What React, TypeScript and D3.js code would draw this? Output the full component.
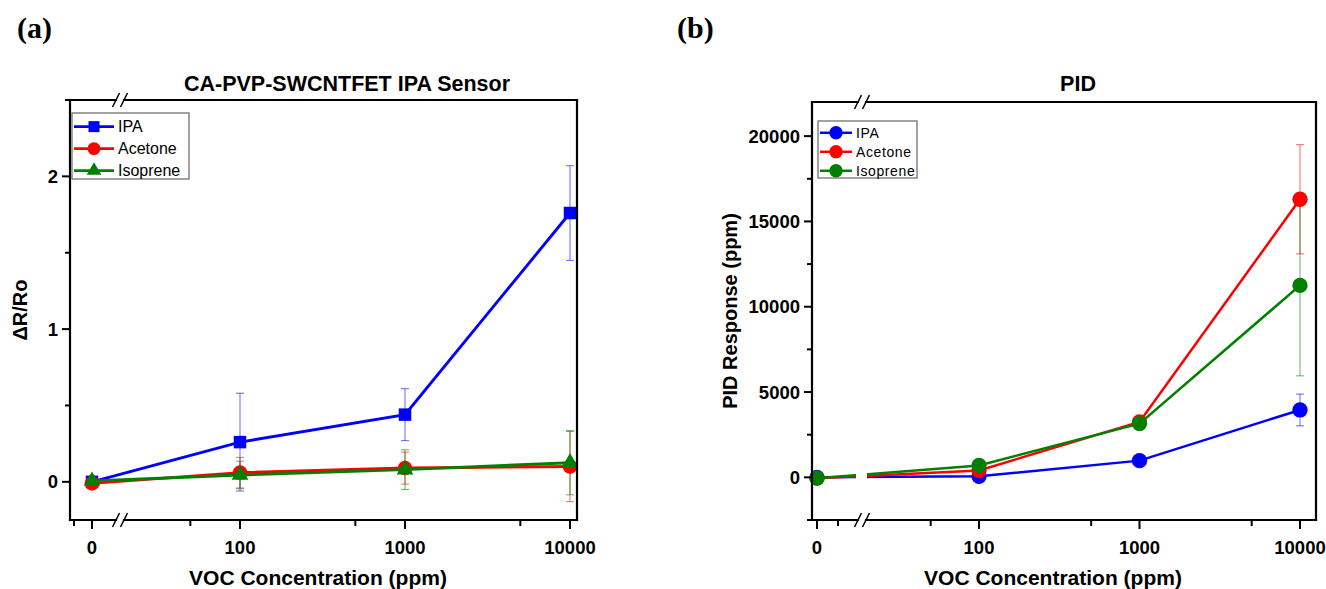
import React from 'react';
import * as d3 from 'd3';

// ---------- data ----------
const concentrations = [0, 100, 1000, 10000];
const seriesNames = ['IPA', 'Acetone', 'Isoprene'];
const seriesColors = ['#0000ff', '#ff0000', '#008000'];

const sensorIPA = [0, 0.26, 0.44, 1.76];
const sensorIPAErr = [0.01, 0.32, 0.17, 0.31];
const sensorAcetone = [-0.01, 0.06, 0.09, 0.1];
const sensorAcetoneErr = [0.01, 0.1, 0.105, 0.23];
const sensorIsoprene = [0.005, 0.045, 0.08, 0.125];
const sensorIsopreneErr = [0.01, 0.09, 0.13, 0.21];

const pidIPA = [0, 60, 980, 3950];
const pidIPAErr = [0, 40, 80, 930];
const pidAcetone = [-50, 400, 3250, 16300];
const pidAcetoneErr = [0, 80, 120, 3200];
const pidIsoprene = [-50, 700, 3150, 11250];
const pidIsopreneErr = [0, 80, 120, 5300];

const sensorYTicks = [0, 1, 2];
const sensorYMinor = [0.5, 1.5, 2.5];
const pidYTicks = [0, 5000, 10000, 15000, 20000];
const pidYMinor = [-2500, 2500, 7500, 12500, 17500];
const xTickLabels = ['0', '100', '1000', '10000'];
const xMinorLog = [50, 500, 5000];

const FONT = "'Liberation Sans', Arial, Helvetica, sans-serif";

type Series = { name: string; color: string; values: number[]; errors: number[]; marker: string };

type PanelProps = {
  left: number; right: number; top: number; bottom: number;
  zeroX: number; x100: number; x10000: number; leftStep: number; leftMinor: number[];
  breakX: number;
  yDomain: [number, number];
  yTicks: number[]; yMinor: number[];
  series: Series[];
  markerScale: number;
  lineWidth: number;
  gapInLines: boolean;
  title: string; titleX: number;
  yLabel: string; yLabelX: number;
  xLabelX: number;
  panelLabel: string; panelLabelX: number;
  legend: { x: number; y: number; w: number; h: number; rowH: number; lineLen: number; fontSize: number; letterSpacing: number };
  id: string;
};

function Marker({ type, x, y, color, s }: { type: string; x: number; y: number; color: string; s: number }) {
  if (type === 'square') {
    const a = 12.5 * s;
    return <rect x={x - a / 2} y={y - a / 2} width={a} height={a} fill={color} />;
  }
  if (type === 'triangle') {
    const sym = d3.symbol().type(d3.symbolTriangle).size(120 * s * s)();
    return <path d={sym as string} transform={`translate(${x},${y})`} fill={color} />;
  }
  return <circle cx={x} cy={y} r={7.3 * s} fill={color} />;
}

function Panel(p: PanelProps) {
  const logX = d3.scaleLog().domain([100, 10000]).range([p.x100, p.x10000]);
  const linX = d3.scaleLinear().domain([0, 1]).range([p.zeroX, p.zeroX + p.leftStep]);
  const xs = (v: number) => (v > 0 ? logX(v) : linX(v));
  const y = d3.scaleLinear().domain(p.yDomain).range([p.bottom, p.top]);
  const line = d3.line<number>().x((_, i) => xs(concentrations[i])).y((d) => y(d));

  const b = p.breakX;
  const slash = (cx: number, cy: number) => (
    <line x1={cx - 3.5} y1={cy + 7} x2={cx + 3.5} y2={cy - 7} stroke="#000" strokeWidth={1.6} />
  );
  const leg = p.legend;

  return (
    <g>
      <text x={p.panelLabelX} y={38} fontFamily="'Liberation Serif', 'Times New Roman', serif" fontWeight="bold" fontSize={30}>{p.panelLabel}</text>
      <text x={p.titleX} y={91} textAnchor="middle" fontFamily={FONT} fontWeight="bold" fontSize={21.5}>{p.title}</text>

      <defs>
        <mask id={`gap-${p.id}`} maskUnits="userSpaceOnUse" x={0} y={0} width={1326} height={589}>
          <rect x={0} y={0} width={1326} height={589} fill="white" />
          {p.gapInLines && <rect x={b - 6} y={p.top} width={11} height={p.bottom - p.top} fill="black" />}
        </mask>
      </defs>

      {p.series.map((s) => (
        <g key={`e-${s.name}`} stroke={s.color} strokeOpacity={0.55} strokeWidth={1.1}>
          {s.values.map((v, i) => {
            const e = s.errors[i];
            if (!e) return null;
            const cx = xs(concentrations[i]);
            const y1 = y(v + e), y2 = y(v - e);
            return (
              <g key={i}>
                <line x1={cx} x2={cx} y1={y1} y2={y2} />
                <line x1={cx - 4} x2={cx + 4} y1={y1} y2={y1} />
                <line x1={cx - 4} x2={cx + 4} y1={y2} y2={y2} />
              </g>
            );
          })}
        </g>
      ))}

      {p.series.map((s) => (
        <g key={`s-${s.name}`}>
          <path d={line(s.values) as string} fill="none" stroke={s.color} strokeWidth={p.lineWidth} mask={`url(#gap-${p.id})`} />
          {s.values.map((v, i) => (
            <Marker key={i} type={s.marker} x={xs(concentrations[i])} y={y(v)} color={s.color} s={p.markerScale} />
          ))}
        </g>
      ))}

      <g stroke="#000" strokeWidth={2.2} fill="none" strokeLinecap="square">
        <line x1={p.left} x2={p.left} y1={p.top} y2={p.bottom} />
        <line x1={p.right} x2={p.right} y1={p.top} y2={p.bottom} />
        <line x1={p.left} x2={b - 4} y1={p.bottom} y2={p.bottom} />
        <line x1={b + 4} x2={p.right} y1={p.bottom} y2={p.bottom} />
        <line x1={p.left} x2={b - 4} y1={p.top} y2={p.top} />
        <line x1={b + 4} x2={p.right} y1={p.top} y2={p.top} />
      </g>
      {slash(b - 4, p.bottom)}
      {slash(b + 4, p.bottom)}
      {slash(b - 4, p.top)}
      {slash(b + 4, p.top)}

      <g stroke="#000" strokeWidth={2}>
        {p.yTicks.map((t) => <line key={t} x1={p.left - 8} x2={p.left} y1={y(t)} y2={y(t)} />)}
        {p.yMinor.map((t) => <line key={t} x1={p.left - 5} x2={p.left} y1={y(t)} y2={y(t)} />)}
      </g>
      {p.yTicks.map((t) => (
        <text key={t} x={p.left - 12} y={y(t)} dy="0.36em" textAnchor="end" fontFamily={FONT} fontWeight="bold" fontSize={18.5}>{String(t)}</text>
      ))}

      <g stroke="#000" strokeWidth={2}>
        {concentrations.map((c) => <line key={c} x1={xs(c)} x2={xs(c)} y1={p.bottom} y2={p.bottom + 9} />)}
        {xMinorLog.map((c) => <line key={c} x1={logX(c)} x2={logX(c)} y1={p.bottom} y2={p.bottom + 6} />)}
        {p.leftMinor.map((c) => <line key={c} x1={linX(c)} x2={linX(c)} y1={p.bottom} y2={p.bottom + 6} />)}
      </g>
      {concentrations.map((c, i) => (
        <text key={c} x={xs(c)} y={554} textAnchor="middle" fontFamily={FONT} fontWeight="bold" fontSize={18.5}>{xTickLabels[i]}</text>
      ))}

      <text x={p.xLabelX} y={585} textAnchor="middle" fontFamily={FONT} fontWeight="bold" fontSize={21}>VOC Concentration (ppm)</text>
      <text transform={`translate(${p.yLabelX},${(p.top + p.bottom) / 2}) rotate(-90)`} textAnchor="middle" dy="0.35em" fontFamily={FONT} fontWeight="bold" fontSize={20}>{p.yLabel}</text>

      <rect x={leg.x} y={leg.y} width={leg.w} height={leg.h} fill="#fff" stroke="#666" strokeWidth={1.2} />
      {p.series.map((s, i) => {
        const ry = leg.y + leg.rowH * (i + 0.62);
        const lx = leg.x + 2;
        return (
          <g key={`l-${s.name}`}>
            <line x1={lx} x2={lx + leg.lineLen} y1={ry} y2={ry} stroke={s.color} strokeWidth={p.lineWidth} />
            <Marker type={s.marker} x={lx + leg.lineLen / 2} y={ry} color={s.color} s={p.markerScale * 0.88} />
            <text x={lx + leg.lineLen + 4} y={ry} dy="0.36em" fontFamily={FONT} fontSize={leg.fontSize} letterSpacing={leg.letterSpacing}>{s.name}</text>
          </g>
        );
      })}
    </g>
  );
}

export default function App() {
  const sensorSeries: Series[] = [
    { name: seriesNames[0], color: seriesColors[0], values: sensorIPA, errors: sensorIPAErr, marker: 'square' },
    { name: seriesNames[1], color: seriesColors[1], values: sensorAcetone, errors: sensorAcetoneErr, marker: 'circle' },
    { name: seriesNames[2], color: seriesColors[2], values: sensorIsoprene, errors: sensorIsopreneErr, marker: 'triangle' },
  ];
  const pidSeries: Series[] = [
    { name: seriesNames[0], color: seriesColors[0], values: pidIPA, errors: pidIPAErr, marker: 'circle' },
    { name: seriesNames[1], color: seriesColors[1], values: pidAcetone, errors: pidAcetoneErr, marker: 'circle' },
    { name: seriesNames[2], color: seriesColors[2], values: pidIsoprene, errors: pidIsopreneErr, marker: 'circle' },
  ];
  return (
    <svg width={1326} height={589} style={{ position: 'absolute', left: 0, top: 0, background: '#fff' }}>
      <rect width={1326} height={589} fill="#fff" />
      <Panel
        id="a"
        left={70} right={577} top={100} bottom={520}
        zeroX={92} x100={240} x10000={570} leftStep={18} leftMinor={[-1]}
        breakX={120}
        yDomain={[-0.25, 2.5]} yTicks={sensorYTicks} yMinor={sensorYMinor}
        series={sensorSeries} markerScale={1} lineWidth={2.9} gapInLines={false}
        title="CA-PVP-SWCNTFET IPA Sensor" titleX={347}
        yLabel="ΔR/Ro" yLabelX={20} xLabelX={318}
        panelLabel="(a)" panelLabelX={17}
        legend={{ x: 72, y: 113, w: 117, h: 66, rowH: 22, lineLen: 40, fontSize: 16, letterSpacing: 0 }}
      />
      <Panel
        id="b"
        left={812} right={1316} top={102} bottom={520}
        zeroX={817} x100={979} x10000={1300} leftStep={21} leftMinor={[1]}
        breakX={862}
        yDomain={[-2500, 22000]} yTicks={pidYTicks} yMinor={pidYMinor}
        series={pidSeries} markerScale={1.05} lineWidth={2.5} gapInLines={true}
        title="PID" titleX={1078}
        yLabel="PID Response (ppm)" yLabelX={730} xLabelX={1053}
        panelLabel="(b)" panelLabelX={677}
        legend={{ x: 818, y: 121, w: 99, h: 57, rowH: 19, lineLen: 32, fontSize: 14, letterSpacing: 0.6 }}
      />
    </svg>
  );
}
